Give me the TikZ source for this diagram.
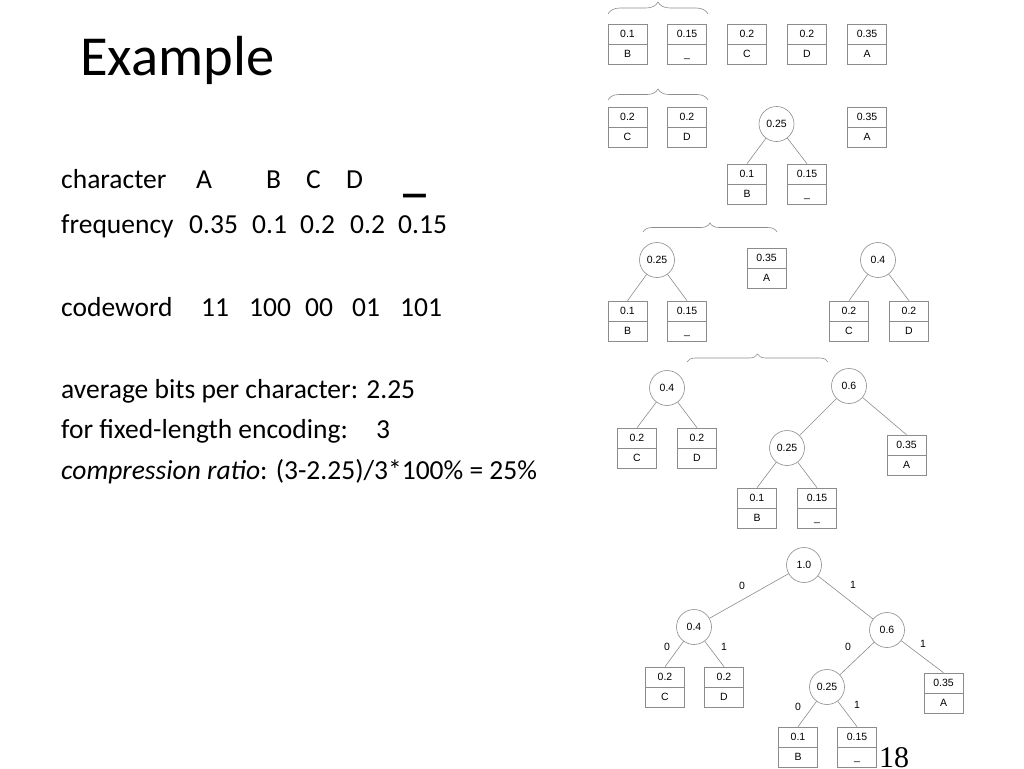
\documentclass[tikz,border=0pt]{standalone}
\usepackage{fontspec}
\setmainfont{Carlito}
\newfontfamily\arialf{Liberation Sans}
\newfontfamily\timesf{Liberation Serif}
\usetikzlibrary{decorations.pathreplacing}
\colorlet{treegray}{black!45}
\tikzset{
  leafbox/.style={draw=treegray, line width=0.6pt, minimum width=39pt, minimum height=40pt, inner sep=0pt,
    path picture={\draw[treegray, line width=0.6pt] (path picture bounding box.west) -- (path picture bounding box.east);}},
  celltxt/.style={font=\arialf\fontsize{10.5}{12}\selectfont, inner sep=0pt, text height=7.5pt, text depth=0pt},
  sumnode/.style={circle, draw=treegray, line width=0.6pt, minimum size=35pt, inner sep=0pt,
    font=\arialf\fontsize{10.5}{12}\selectfont, text height=7.5pt, text depth=0pt},
  treeedge/.style={draw=treegray, line width=0.6pt},
  bracestyle/.style={draw=treegray, line width=0.6pt, decorate, decoration={brace, amplitude=#1}},
  bodytxt/.style={font=\fontsize{27.5}{33}\selectfont, anchor=base west, inner sep=0pt},
}
\newcommand\leafnode[5]{%
  \node[leafbox] (#1) at (#2,#3) {};
  \node[celltxt] (#1t) at ([yshift=10pt]#1.center) {#4};
  \node[celltxt] (#1b) at ([yshift=-10pt]#1.center) {#5};}
\begin{document}
\begin{tikzpicture}[x=1pt,y=-1pt]
\clip (0,0) rectangle (1024,768);
\fill[white] (0,0) rectangle (1024,768);

% ---- left text ----
\node[font=\fontsize{56.5}{60}\selectfont, anchor=base west, inner sep=0pt] (title) at (80,75) {Example};

\node[bodytxt] (ch) at (61,188) {character};
\node[bodytxt] (chA) at (196,188) {A};
\node[bodytxt] (chB) at (266,188) {B};
\node[bodytxt] (chC) at (306,188) {C};
\node[bodytxt] (chD) at (346,188) {D};
\node[font=\bfseries\fontsize{46}{50}\selectfont, anchor=base west, inner sep=0pt] (chU) at (403,191) {\_};

\node[bodytxt] (fr) at (61,233) {frequency};
\node[bodytxt] (frA) at (189,233) {0.35};
\node[bodytxt] (frB) at (252,233) {0.1};
\node[bodytxt] (frC) at (300,233) {0.2};
\node[bodytxt] (frD) at (350,233) {0.2};
\node[bodytxt] (frU) at (398,233) {0.15};

\node[bodytxt] (cw) at (61,316) {codeword};
\node[bodytxt] (cwA) at (201,316) {11};
\node[bodytxt] (cwB) at (249,316) {100};
\node[bodytxt] (cwC) at (305,316) {00};
\node[bodytxt] (cwD) at (352,316) {01};
\node[bodytxt] (cwU) at (400,316) {101};

\node[bodytxt] (avg) at (61,398) {average bits per character: 2.25};
\node[bodytxt] (fix) at (61,438) {for fixed-length encoding:};
\node[bodytxt] (fixv) at (376,438) {3};
\node[bodytxt] (cmp) at (61,479) {\textit{compression ratio}: (3-2.25)/3*100\% = 25\%};

% ---- row 1 ----
\coordinate (b1a) at (608,14); \coordinate (b1b) at (708,14);
\draw[bracestyle=12] (b1a) -- (b1b);
\leafnode{r1b}{627.5}{44}{0.1}{B}
\leafnode{r1u}{687}{44}{0.15}{\_}
\leafnode{r1c}{747}{44}{0.2}{C}
\leafnode{r1d}{807}{44}{0.2}{D}
\leafnode{r1a}{867}{44}{0.35}{A}

% ---- row 2 ----
\coordinate (b2a) at (608,100); \coordinate (b2b) at (708,100);
\draw[bracestyle=11] (b2a) -- (b2b);
\leafnode{r2c}{627.5}{127}{0.2}{C}
\leafnode{r2d}{687}{127}{0.2}{D}
\node[sumnode] (r2s) at (776.5,124) {0.25};
\leafnode{r2a}{867}{127}{0.35}{A}
\leafnode{r2b}{747}{184}{0.1}{B}
\leafnode{r2u}{807}{184}{0.15}{\_}
\draw[treeedge] (r2s) -- (r2b.north);
\draw[treeedge] (r2s) -- (r2u.north);

% ---- row 3 ----
\coordinate (b3a) at (643,232); \coordinate (b3b) at (777,232);
\draw[bracestyle=9] (b3a) -- (b3b);
\node[sumnode] (r3s) at (657,260) {0.25};
\leafnode{r3a}{766.5}{268}{0.35}{A}
\node[sumnode] (r3f) at (878,260) {0.4};
\leafnode{r3b}{627.5}{321}{0.1}{B}
\leafnode{r3u}{687}{321}{0.15}{\_}
\leafnode{r3c}{849}{321}{0.2}{C}
\leafnode{r3d}{909}{321}{0.2}{D}
\draw[treeedge] (r3s) -- (r3b.north);
\draw[treeedge] (r3s) -- (r3u.north);
\draw[treeedge] (r3f) -- (r3c.north);
\draw[treeedge] (r3f) -- (r3d.north);

% ---- row 4 ----
\coordinate (b4a) at (687,362); \coordinate (b4b) at (828,362);
\draw[bracestyle=8] (b4a) -- (b4b);
\node[sumnode] (r4f) at (667,388) {0.4};
\node[sumnode] (r4x) at (849,386) {0.6};
\leafnode{r4c}{637}{448}{0.2}{C}
\leafnode{r4d}{697}{448}{0.2}{D}
\node[sumnode] (r4s) at (787,448) {0.25};
\leafnode{r4a}{906.5}{455}{0.35}{A}
\leafnode{r4b}{757}{508}{0.1}{B}
\leafnode{r4u}{817}{508}{0.15}{\_}
\draw[treeedge] (r4f) -- (r4c.north);
\draw[treeedge] (r4f) -- (r4d.north);
\draw[treeedge] (r4x) -- (r4s);
\draw[treeedge] (r4x) -- (r4a.north);
\draw[treeedge] (r4s) -- (r4b.north);
\draw[treeedge] (r4s) -- (r4u.north);

% ---- row 5: final tree ----
\node[sumnode] (r5r) at (804,565) {1.0};
\node[sumnode] (r5f) at (694,627) {0.4};
\node[sumnode] (r5x) at (887,630) {0.6};
\leafnode{r5c}{665}{687}{0.2}{C}
\leafnode{r5d}{724}{687}{0.2}{D}
\node[sumnode] (r5s) at (827,687) {0.25};
\leafnode{r5a}{943.5}{693}{0.35}{A}
\leafnode{r5b}{798}{747}{0.1}{B}
\leafnode{r5u}{857}{747}{0.15}{\_}
\draw[treeedge] (r5r) -- (r5f);
\draw[treeedge] (r5r) -- (r5x);
\draw[treeedge] (r5f) -- (r5c.north);
\draw[treeedge] (r5f) -- (r5d.north);
\draw[treeedge] (r5x) -- (r5s);
\draw[treeedge] (r5x) -- (r5a.north);
\draw[treeedge] (r5s) -- (r5b.north);
\draw[treeedge] (r5s) -- (r5u.north);
\node[celltxt] (l1) at (742,586) {0};
\node[celltxt] (l2) at (853,585) {1};
\node[celltxt] (l3) at (667,647) {0};
\node[celltxt] (l4) at (724,647) {1};
\node[celltxt] (l5) at (848,647) {0};
\node[celltxt] (l6) at (923,644) {1};
\node[celltxt] (l7) at (798,707) {0};
\node[celltxt] (l8) at (857,705) {1};

\node[font=\timesf\fontsize{30}{36}\selectfont, anchor=base west, inner sep=0pt] (pg) at (879,767) {18};
\end{tikzpicture}
\end{document}
